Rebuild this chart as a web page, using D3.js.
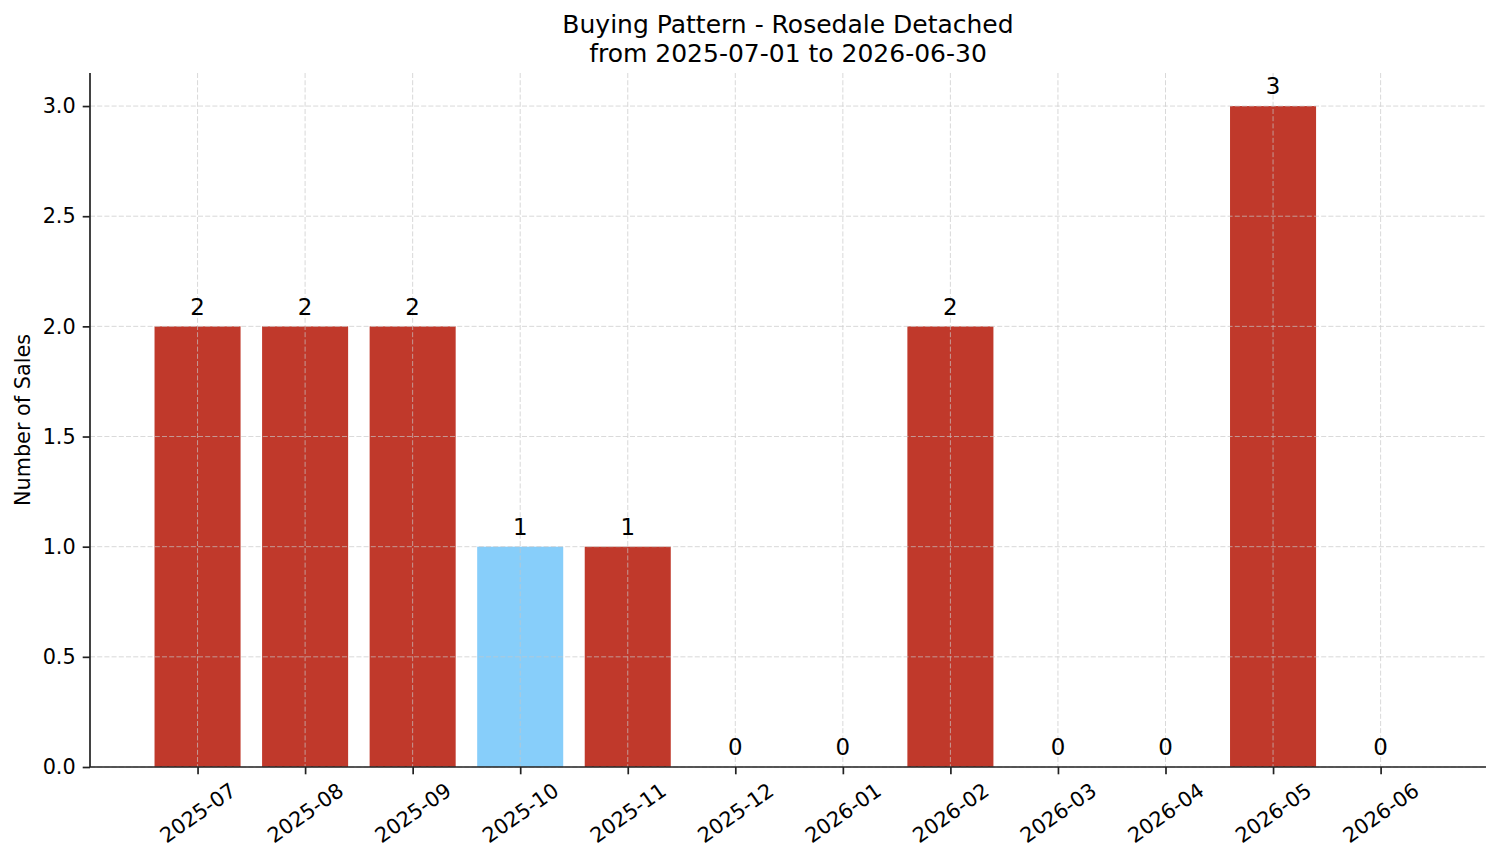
<!DOCTYPE html>
<html>
<head>
<meta charset="utf-8">
<script src="https://cdn.jsdelivr.net/npm/d3@7"></script>
<style>
  html, body { margin: 0; padding: 0; background: #fff; }
  svg { display: block; font-family: "DejaVu Sans", sans-serif; }
</style>
</head>
<body>
<svg id="chart" width="1501" height="863"></svg>
<script>
const months = ["2025-07","2025-08","2025-09","2025-10","2025-11","2025-12","2026-01","2026-02","2026-03","2026-04","2026-05","2026-06"];
const sales = [2, 2, 2, 1, 1, 0, 0, 2, 0, 0, 3, 0];
const highlighted = ["2025-10"];
const yTicks = [0, 0.5, 1.0, 1.5, 2.0, 2.5, 3.0];
const titleLines = ["Buying Pattern - Rosedale Detached", "from 2025-07-01 to 2026-06-30"];
const yLabel = "Number of Sales";

const W = 1501, H = 863;
const m = { left: 90, right: 1486, top: 73, bottom: 767 };
const svg = d3.select("#chart");

const x = d3.scaleLinear().domain([-1, months.length - 1 + 0.98]).range([m.left, m.right]);
const y = d3.scaleLinear().domain([0, 3.15]).range([m.bottom, m.top]);
const barW = x(0.8) - x(0);

const RED = "#c0392b", BLUE = "#87cefa";

// bars
svg.append("g").selectAll("rect").data(months).join("rect")
  .attr("x", (d, i) => x(i) - barW / 2)
  .attr("y", (d, i) => y(sales[i]))
  .attr("width", barW)
  .attr("height", (d, i) => y(0) - y(sales[i]))
  .attr("fill", d => highlighted.includes(d) ? BLUE : RED);

// grid (above bars)
const grid = svg.append("g").attr("stroke", "#c8c8c8").attr("stroke-width", 0.8)
  .attr("stroke-dasharray", "5,2.2").attr("opacity", 0.85);
grid.selectAll("line.h").data(yTicks).join("line").attr("class", "h")
  .attr("x1", m.left).attr("x2", m.right)
  .attr("y1", d => y(d)).attr("y2", d => y(d));
grid.selectAll("line.v").data(months).join("line").attr("class", "v")
  .attr("y1", m.top).attr("y2", m.bottom)
  .attr("x1", (d, i) => x(i)).attr("x2", (d, i) => x(i));

// value labels
svg.append("g").selectAll("text").data(months).join("text")
  .attr("x", (d, i) => x(i))
  .attr("y", (d, i) => y(sales[i]) - 11.7)
  .attr("text-anchor", "middle")
  .attr("font-size", "22.9px")
  .attr("fill", "#000")
  .text((d, i) => sales[i]);

// y axis
const yAxis = d3.axisLeft(y).tickValues(yTicks).tickFormat(d3.format(".1f")).tickSize(7.3).tickPadding(7);
const gy = svg.append("g").attr("transform", `translate(${m.left},0)`).call(yAxis);
gy.select(".domain").attr("d", `M0,${m.top}V${m.bottom}`).attr("stroke", "#222").attr("stroke-width", 1.7);
gy.selectAll(".tick line").attr("stroke", "#222").attr("stroke-width", 1.7);
gy.selectAll(".tick text").attr("font-size", "20.8px").attr("fill", "#000").attr("font-family", "DejaVu Sans");

// x axis
const xAxis = d3.axisBottom(x).tickValues(d3.range(months.length)).tickFormat(i => months[i]).tickSize(7.3).tickPadding(0);
const gx = svg.append("g").attr("transform", `translate(0,${m.bottom})`).call(xAxis);
gx.select(".domain").attr("d", `M${m.left},0H${m.right}`).attr("stroke", "#222").attr("stroke-width", 1.7);
gx.selectAll(".tick line").attr("stroke", "#222").attr("stroke-width", 1.7);
gx.selectAll(".tick text")
  .attr("font-size", "20.8px").attr("fill", "#000").attr("font-family", "DejaVu Sans")
  .attr("text-anchor", "middle").attr("dy", null).attr("y", null)
  .attr("transform", "translate(0,46) rotate(-35)")
  .attr("dominant-baseline", "central");

// y label
svg.append("text")
  .attr("transform", `translate(30,${(m.top + m.bottom) / 2}) rotate(-90)`)
  .attr("text-anchor", "middle")
  .attr("font-size", "20.8px")
  .text(yLabel);

// title
svg.append("g").selectAll("text").data(titleLines).join("text")
  .attr("x", (m.left + m.right) / 2)
  .attr("y", (d, i) => 33 + i * 29)
  .attr("text-anchor", "middle")
  .attr("font-size", "25px")
  .text(d => d);
</script>
</body>
</html>
